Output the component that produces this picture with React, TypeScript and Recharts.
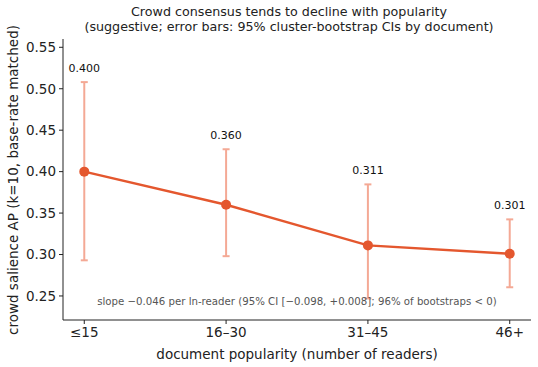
import React from "react";
import {
  ComposedChart,
  Line,
  XAxis,
  YAxis,
  ErrorBar,
  LabelList,
} from "recharts";

const groups = ["≤15", "16–30", "31–45", "46+"];
const meanAP = [0.4, 0.36, 0.311, 0.301];
const ciLow = [0.293, 0.298, 0.247, 0.2605];
const ciHigh = [0.508, 0.427, 0.3846, 0.3424];
const yTicks = [0.25, 0.3, 0.35, 0.4, 0.45, 0.5, 0.55];

const data = groups.map((g, i) => ({
  x: i,
  label: g,
  ap: meanAP[i],
  hi: ciHigh[i],
  err: [meanAP[i] - ciLow[i], ciHigh[i] - meanAP[i]],
}));

const FONT = "'DejaVu Sans', sans-serif";
const LINE = "#e4572e";
const BAR = "#f4a995";

const App = () => {
  return (
    <div
      style={{
        position: "absolute",
        left: 0,
        top: 0,
        width: 538,
        height: 367,
        fontFamily: FONT,
        background: "#fff",
      }}
    >
      <div
        style={{
          position: "absolute",
          left: 39,
          width: 500,
          top: 4,
          textAlign: "center",
          fontSize: 12.7,
          lineHeight: "15px",
          color: "#222",
          whiteSpace: "nowrap",
        }}
      >
        Crowd consensus tends to decline with popularity
        <br />
        (suggestive; error bars: 95% cluster-bootstrap CIs by document)
      </div>
      <ComposedChart
        width={538}
        height={367}
        data={data}
        margin={{ top: 39, right: 7, left: 0, bottom: 0 }}
      >
        <XAxis
          dataKey="x"
          type="number"
          domain={[-0.15, 3.15]}
          ticks={[0, 1, 2, 3]}
          tickFormatter={(v: number) => groups[v]}
          height={47}
          tickSize={4}
          tickMargin={3}
          stroke="#222"
          tick={{ fill: "#222", fontSize: 13.5, fontFamily: FONT }}
          label={{
            value: "document popularity (number of readers)",
            position: "insideBottom",
            offset: 8,
            fill: "#222",
            fontSize: 13.5,
            fontFamily: FONT,
          }}
        />
        <YAxis
          type="number"
          domain={[0.221, 0.56]}
          ticks={yTicks}
          tickFormatter={(v: number) => v.toFixed(2)}
          width={63}
          tickSize={4}
          tickMargin={3}
          stroke="#222"
          allowDataOverflow
          tick={{ fill: "#222", fontSize: 13.5, fontFamily: FONT }}
          label={{
            content: () => (
              <text
                x={13}
                y={180}
                transform="rotate(-90 13 180)"
                textAnchor="middle"
                dominantBaseline="central"
                fill="#222"
                fontSize={13.5}
                fontFamily={FONT}
              >
                crowd salience AP (k=10, base-rate matched)
              </text>
            ),
          }}
        />
        {/* CI whiskers sit under the main line */}
        <Line
          dataKey="ap"
          stroke="none"
          dot={false}
          activeDot={false}
          isAnimationActive={false}
        >
          <ErrorBar
            dataKey="err"
            direction="y"
            width={3.5}
            stroke={BAR}
            strokeWidth={2}
            isAnimationActive={false}
          />
        </Line>
        {/* value labels above the upper CI cap */}
        <Line
          dataKey="hi"
          stroke="none"
          dot={false}
          activeDot={false}
          isAnimationActive={false}
        >
          <LabelList
            dataKey="ap"
            content={(p: any) => (
              <text
                x={p.x}
                y={p.y - 10}
                textAnchor="middle"
                fill="#111"
                fontSize={11}
                fontFamily={FONT}
              >
                {Number(p.value).toFixed(3)}
              </text>
            )}
          />
        </Line>
        <Line
          dataKey="ap"
          stroke={LINE}
          strokeWidth={2.4}
          dot={{ r: 5, fill: LINE, stroke: LINE, strokeWidth: 0 }}
          activeDot={false}
          isAnimationActive={false}
        />
      </ComposedChart>
      <div
        style={{
          position: "absolute",
          left: 63,
          width: 468,
          top: 296,
          textAlign: "center",
          fontSize: 10.2,
          color: "#555",
          whiteSpace: "nowrap",
        }}
      >
        slope −0.046 per ln-reader (95% CI [−0.098, +0.008]; 96% of bootstraps &lt; 0)
      </div>
    </div>
  );
};

export default App;
